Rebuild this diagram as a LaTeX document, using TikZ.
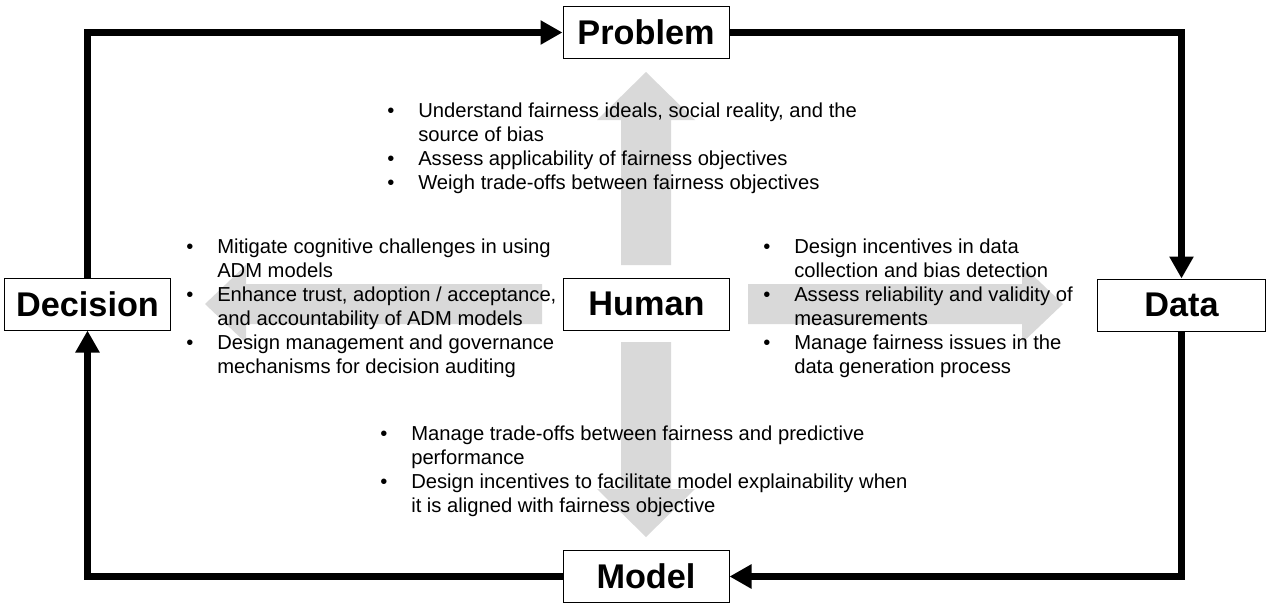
\documentclass[tikz,border=0pt]{standalone}
\usepackage{fontspec}
\setmainfont{Liberation Sans}
\usetikzlibrary{arrows.meta}
\definecolor{fatgray}{RGB}{217,217,217}
\begin{document}
\begin{tikzpicture}[x=0.75pt,y=-0.75pt,
  box/.style={draw=black,line width=0.75pt,fill=white,inner sep=0pt,
    minimum width=124.5pt,minimum height=39pt,
    font=\fontsize{25.7pt}{30pt}\selectfont\bfseries},
  loopline/.style={line width=5.25pt,line join=miter,
    -{Triangle[length=16.5pt,width=17.25pt]}},
  fat/.style={fill=fatgray,draw=none},
  txt/.style={anchor=base west,inner sep=0pt,font=\fontsize{15.15pt}{18pt}\selectfont}]
\useasboundingbox (0,0) rectangle (1272,611);
% fat gray arrows
\fill[fat] (621,265) -- (621,120) -- (597,120) -- (646,72) -- (695,120) -- (671,120) -- (671,265) -- cycle;
\fill[fat] (621,342) -- (621,489) -- (597,489) -- (646,537) -- (695,489) -- (671,489) -- (671,342) -- cycle;
\fill[fat] (542,284) -- (246,284) -- (246,265) -- (205,304) -- (246,343) -- (246,324) -- (542,324) -- cycle;
\fill[fat] (748,284) -- (1022,284) -- (1022,265) -- (1063,304) -- (1022,343) -- (1022,324) -- (748,324) -- cycle;
% boxes
\node[box] (problem) at (646,32.5) {Problem};
\node[box] (human) at (646.5,304) {Human};
\node[box] (decision) at (87.5,304) {Decision};
\node[box,minimum width=126pt] (data) at (1181.5,305) {Data};
\node[box] (model) at (646,576.5) {Model};
% loop
\draw[loopline] (decision.north) |- (problem.west);
\draw[loopline] (problem.east) -| (data.north);
\draw[loopline] (data.south) |- (model.east);
\draw[loopline] (model.west) -| (decision.south);
% texts
\node[txt] (ttop) at (387,117.5) {\begin{tabular}[t]{@{}p{23.25pt}@{}l@{}}
•&Understand fairness ideals, social reality, and the\\
&source of bias\\
•&Assess applicability of fairness objectives\\
•&Weigh trade-offs between fairness objectives
\end{tabular}};
\node[txt] (tleft) at (186,253.5) {\begin{tabular}[t]{@{}p{23.25pt}@{}l@{}}
•&Mitigate cognitive challenges in using\\
&ADM models\\
•&Enhance trust, adoption / acceptance,\\
&and accountability of ADM models\\
•&Design management and governance\\
&mechanisms for decision auditing
\end{tabular}};
\node[txt] (tright) at (763,253.5) {\begin{tabular}[t]{@{}p{23.25pt}@{}l@{}}
•&Design incentives in data\\
&collection and bias detection\\
•&Assess reliability and validity of\\
&measurements\\
•&Manage fairness issues in the\\
&data generation process
\end{tabular}};
\node[txt] (tbottom) at (380,440.5) {\begin{tabular}[t]{@{}p{23.25pt}@{}l@{}}
•&Manage trade-offs between fairness and predictive\\
&performance\\
•&Design incentives to facilitate model explainability when\\
&it is aligned with fairness objective
\end{tabular}};
\end{tikzpicture}
\end{document}
